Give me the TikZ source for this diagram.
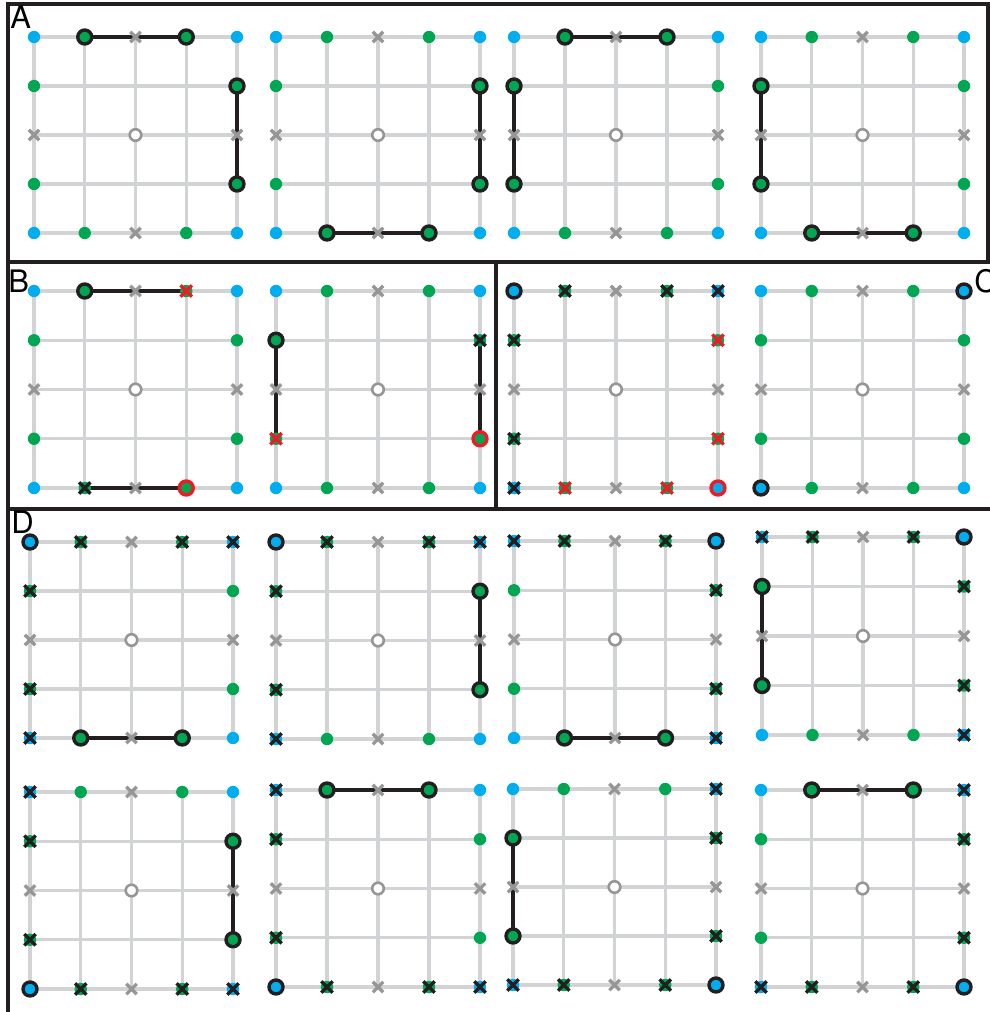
\documentclass[tikz,border=0pt]{standalone}
\usepackage{fontspec}
\setsansfont{TeX Gyre Heros}
\usetikzlibrary{shapes.misc}

\definecolor{gridgray}{RGB}{209,211,212}
\definecolor{dotblue}{RGB}{0,174,239}
\definecolor{dotgreen}{RGB}{0,166,81}
\definecolor{markgray}{RGB}{150,150,150}
\definecolor{inkblack}{RGB}{35,31,32}
\definecolor{markred}{RGB}{237,28,36}

\tikzset{
  gline/.style={gridgray,line width=1.7pt},
  seg/.style={inkblack,line width=1.8pt},
  frame/.style={inkblack,line width=1.6pt},
  bdot/.style={circle,fill=dotblue,inner sep=0pt,minimum size=6.2pt},
  gdot/.style={circle,fill=dotgreen,inner sep=0pt,minimum size=6.2pt},
  gcross/.style={cross out,draw=markgray,line width=1.6pt,inner sep=0pt,minimum size=3.6pt},
  ctr/.style={circle,draw=markgray,fill=white,line width=1.3pt,inner sep=0pt,minimum size=5.8pt},
  ring/.style={circle,draw=inkblack,line width=1.7pt,inner sep=0pt,minimum size=7pt},
  redring/.style={ring,draw=markred},
  kcross/.style={cross out,draw=inkblack,line width=1.7pt,inner sep=0pt,minimum size=4pt},
  rcross/.style={kcross,draw=markred},
  tag/.style={font=\sffamily\fontsize{15.5}{15.5}\selectfont,inner sep=0pt,anchor=base west}
}

% 5x5 lattice: name, top-left corner, bottom-right corner
\newcommand\lattice[5]{%
  \foreach \c in {0,...,4} \foreach \r in {0,...,4}
    \coordinate (#1-\c\r) at ({#2+\c*(#4-#2)/4},{#3+\r*(#5-#3)/4});
  \foreach \k in {0,...,4} {
    \draw[gline] (#1-\k0) -- (#1-\k4);
    \draw[gline] (#1-0\k) -- (#1-4\k);
  }
}
\newcommand\basemarks[1]{%
  \foreach \p in {00,40,04,44} \node[bdot] (#1-\p-d) at (#1-\p) {};
  \foreach \p in {10,30,14,34,01,03,41,43} \node[gdot] (#1-\p-d) at (#1-\p) {};
  \foreach \p in {20,24,02,42} \node[gcross] (#1-\p-d) at (#1-\p) {};
  \node[ctr] (#1-22-d) at (#1-22) {};
}
\newcommand\link[3]{\draw[seg] (#1-#2) -- (#1-#3);}
\newcommand\ringed[3]{\foreach \p in {#2} \node[ring,fill=#3] (#1-\p-r) at (#1-\p) {};}
\newcommand\crossed[2]{\foreach \p in {#2} \node[kcross] (#1-\p-k) at (#1-\p) {};}

\begin{document}
\begin{tikzpicture}[x=0.5pt,y=-0.5pt]
  \useasboundingbox (0,0) rectangle (990,1012);

  % panel frames
  \draw[frame] (8,4) rectangle (988,262);
  \draw[frame] (8,262) -- (8,1012);
  \draw[frame] (8,509) -- (990,509);
  \draw[frame] (496,262) -- (496,509);
  \draw[frame,gridgray] (8,1013.5) -- (990,1013.5);

  \node[tag] (lblA) at (10,28) {A};
  \node[tag] (lblB) at (8,292) {B};
  \node[tag] (lblC) at (974,292) {C};
  \node[tag] (lblD) at (11,533) {D};

  % A
  \lattice{a1}{34}{37}{237}{233}
  \link{a1}{10}{30} \link{a1}{41}{43}
  \basemarks{a1} \ringed{a1}{10,30,41,43}{dotgreen}

  \lattice{a2}{276}{37}{480}{233}
  \link{a2}{41}{43} \link{a2}{14}{34}
  \basemarks{a2} \ringed{a2}{41,43,14,34}{dotgreen}

  \lattice{a3}{514}{37}{718}{233}
  \link{a3}{10}{30} \link{a3}{01}{03}
  \basemarks{a3} \ringed{a3}{10,30,01,03}{dotgreen}

  \lattice{a4}{761}{37}{964}{233}
  \link{a4}{01}{03} \link{a4}{14}{34}
  \basemarks{a4} \ringed{a4}{01,03,14,34}{dotgreen}

  % B
  \lattice{b1}{34}{291}{237}{488}
  \link{b1}{10}{30} \link{b1}{14}{34}
  \basemarks{b1} \ringed{b1}{10}{dotgreen} \crossed{b1}{14}
  \node[rcross] (b1-30-x) at (b1-30) {};
  \node[redring,fill=dotgreen] (b1-34-x) at (b1-34) {};

  \lattice{b2}{276}{291}{480}{488}
  \link{b2}{01}{03} \link{b2}{41}{43}
  \basemarks{b2} \ringed{b2}{01}{dotgreen} \crossed{b2}{41}
  \node[rcross] (b2-03-x) at (b2-03) {};
  \node[redring,fill=dotgreen] (b2-43-x) at (b2-43) {};

  % C
  \lattice{c1}{514}{291}{718}{488}
  \basemarks{c1} \ringed{c1}{00}{dotblue} \crossed{c1}{10,30,40,01,03,04}
  \foreach \p in {41,43,14,34} \node[rcross] (c1-\p-x) at (c1-\p) {};
  \node[redring,fill=dotblue] (c1-44-x) at (c1-44) {};

  \lattice{c2}{761}{291}{964}{488}
  \basemarks{c2} \ringed{c2}{40,04}{dotblue}

  % D, upper row
  \lattice{d1}{30}{542}{233}{738}
  \link{d1}{14}{34}
  \basemarks{d1} \ringed{d1}{00}{dotblue} \crossed{d1}{10,30,40,01,03,04}
  \ringed{d1}{14,34}{dotgreen}

  \lattice{d2}{276}{542}{480}{739}
  \link{d2}{41}{43}
  \basemarks{d2} \ringed{d2}{00}{dotblue} \crossed{d2}{10,30,40,01,03,04}
  \ringed{d2}{41,43}{dotgreen}

  \lattice{d3}{514}{541}{716}{738}
  \link{d3}{14}{34}
  \basemarks{d3} \ringed{d3}{40}{dotblue} \crossed{d3}{00,10,30,41,43,44}
  \ringed{d3}{14,34}{dotgreen}

  \lattice{d4}{762}{537}{964}{735}
  \link{d4}{01}{03}
  \basemarks{d4} \ringed{d4}{40}{dotblue} \crossed{d4}{00,10,30,41,43,44}
  \ringed{d4}{01,03}{dotgreen}

  % D, lower row
  \lattice{d5}{30}{792}{233}{989}
  \link{d5}{41}{43}
  \basemarks{d5} \ringed{d5}{04}{dotblue} \crossed{d5}{00,01,03,14,34,44}
  \ringed{d5}{41,43}{dotgreen}

  \lattice{d6}{276}{790}{480}{987}
  \link{d6}{10}{30}
  \basemarks{d6} \ringed{d6}{04}{dotblue} \crossed{d6}{00,01,03,14,34,44}
  \ringed{d6}{10,30}{dotgreen}

  \lattice{d7}{513}{789}{716}{985}
  \link{d7}{01}{03}
  \basemarks{d7} \ringed{d7}{44}{dotblue} \crossed{d7}{40,41,43,04,14,34}
  \ringed{d7}{01,03}{dotgreen}

  \lattice{d8}{761}{790}{964}{987}
  \link{d8}{10}{30}
  \basemarks{d8} \ringed{d8}{44}{dotblue} \crossed{d8}{40,41,43,04,14,34}
  \ringed{d8}{10,30}{dotgreen}
\end{tikzpicture}
\end{document}
